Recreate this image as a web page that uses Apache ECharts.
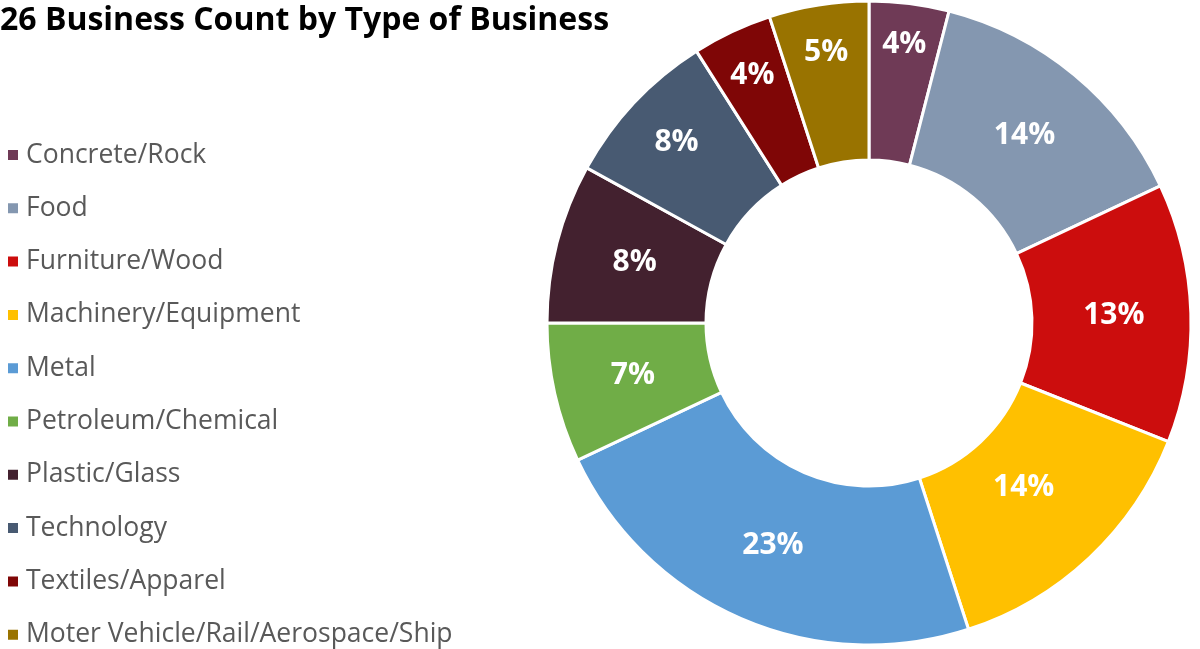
<!DOCTYPE html>
<html>
<head>
<meta charset="utf-8">
<script src="https://cdn.jsdelivr.net/npm/echarts@6/dist/echarts.min.js"></script>
<style>
  html, body { margin: 0; padding: 0; background: #fff; }
  #chart { width: 1200px; height: 649px; }
</style>
</head>
<body>
<div id="chart"></div>
<script>
// Business types and their share of the total count (%)
const categories = [
  'Concrete/Rock', 'Food', 'Furniture/Wood', 'Machinery/Equipment', 'Metal',
  'Petroleum/Chemical', 'Plastic/Glass', 'Technology', 'Textiles/Apparel',
  'Moter Vehicle/Rail/Aerospace/Ship'
];
const shares = [4, 14, 13, 14, 23, 7, 8, 8, 4, 5];
const colors = [
  '#6F3A56', '#8497B0', '#CC0D0D', '#FFC000', '#5B9BD5',
  '#70AD47', '#43212F', '#485A72', '#7F0606', '#997300'
];

const CENTER = [869, 323];
// distance of each percentage label from the ring centre (thin slices push outward)
const labelRadius = [281, 244, 245, 226, 242, 242, 242, 264, 274, 274];

// mid-angle of every slice, measured clockwise from 12 o'clock
const total = shares.reduce((a, b) => a + b, 0);
const midAngles = [];
let acc = 0;
shares.forEach(v => {
  midAngles.push((acc + v / 2) / total * 2 * Math.PI);
  acc += v;
});

const chart = echarts.init(document.getElementById('chart'));
chart.setOption({
  animation: false,
  color: colors,
  title: {
    text: '26 Business Count by Type of Business',
    left: 0,
    top: 5,
    padding: 0,
    textStyle: { fontFamily: 'Open Sans', fontWeight: 'bold', fontSize: 32, color: '#000' }
  },
  legend: {
    orient: 'vertical',
    left: 6,
    top: 140,
    height: 560,
    icon: 'rect',
    itemWidth: 12,
    itemHeight: 12,
    itemGap: 23.3,
    padding: 0,
    textStyle: {
      fontFamily: 'Open Sans', fontSize: 26.5, color: '#595959',
      lineHeight: 30, padding: [0, 0, 0, 2]
    },
    data: categories
  },
  series: [{
    type: 'pie',
    center: CENTER,
    radius: [163, 322],
    startAngle: 90,
    clockwise: true,
    itemStyle: { borderColor: '#fff', borderWidth: 3 },
    label: {
      position: 'inside',
      formatter: '{c}%',
      color: '#fff',
      fontFamily: 'Open Sans',
      fontWeight: 'bold',
      fontSize: 30
    },
    labelLayout: function (params) {
      const i = params.dataIndex;
      const a = midAngles[i];
      return {
        x: CENTER[0] + labelRadius[i] * Math.sin(a),
        y: CENTER[1] - labelRadius[i] * Math.cos(a),
        align: 'center',
        verticalAlign: 'middle'
      };
    },
    labelLine: { show: false },
    emphasis: { disabled: true },
    data: categories.map((name, i) => ({ name, value: shares[i] }))
  }]
});
</script>
</body>
</html>
